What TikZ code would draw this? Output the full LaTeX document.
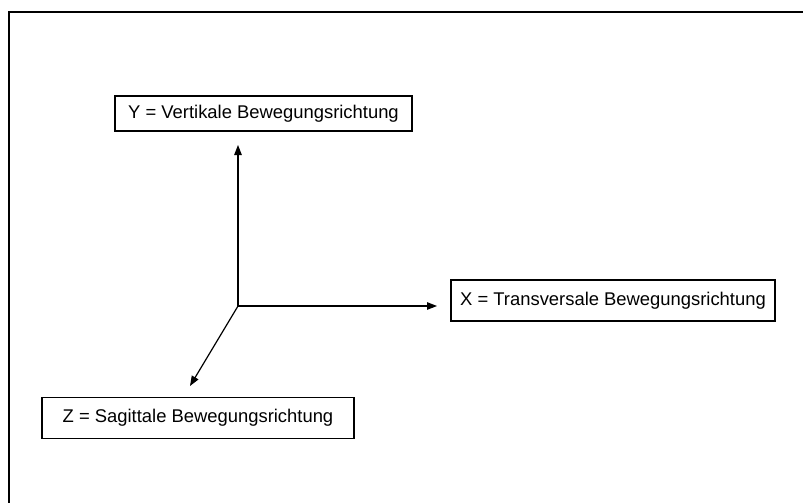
\documentclass[tikz,border=0pt]{standalone}
\usepackage{fontspec}
\setmainfont{Liberation Sans}
\usetikzlibrary{arrows.meta}
\begin{document}
\begin{tikzpicture}[x=1pt,y=-1pt,
  labelbox/.style={draw,line width=1.3pt,inner sep=0pt,font=\fontsize{18.4}{22}\selectfont},
  axis/.style={line width=1.2pt,-{Triangle[length=10pt,width=7.5pt]}}]
\useasboundingbox (0,0) rectangle (803,503);
\draw[line width=1.6pt] (9,503) -- (9,12) -- (803,12);
\node[labelbox,minimum width=297pt,minimum height=35pt] (ybox) at (263.5,113.5) {Y = Vertikale Bewegungsrichtung};
\node[labelbox,minimum width=324pt,minimum height=41pt] (xbox) at (613,300.5) {X = Transversale Bewegungsrichtung};
\node[labelbox,minimum width=312pt,minimum height=41pt] (zbox) at (198,418) {Z = Sagittale Bewegungsrichtung};
\coordinate (O) at (238,306);
\coordinate (yt) at (238,145);
\coordinate (xt) at (437,306);
\coordinate (zt) at (190,386);
\draw[axis] (O) -- (yt);
\draw[axis] (O) -- (xt);
\draw[axis] (O) -- (zt);
\end{tikzpicture}
\end{document}
